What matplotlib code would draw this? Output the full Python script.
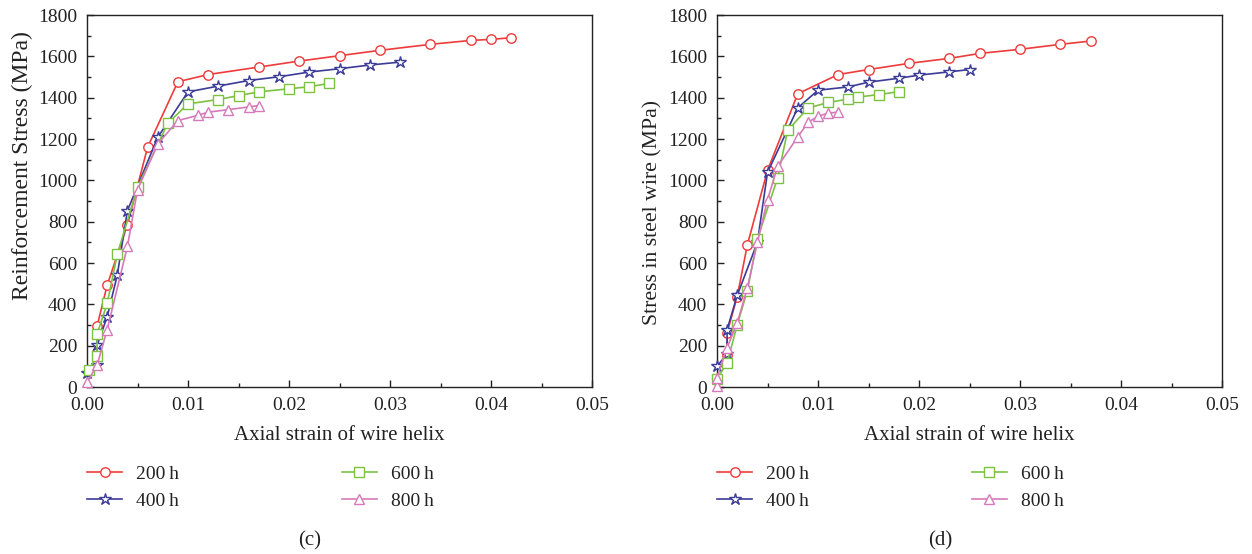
import matplotlib
matplotlib.use("Agg")
import matplotlib.pyplot as plt
from matplotlib.ticker import MultipleLocator, FixedLocator

plt.rcParams['font.family'] = ['Liberation Serif', 'DejaVu Serif']

labels = ['200\u2009h', '400\u2009h', '600\u2009h', '800\u2009h']
colors = ['#ee3b3b', '#3b3b98', '#7cc242', '#d67ab9']
markers = ['o', '*', 's', '^']

# panel (c)
c_200_x = [0.001, 0.001, 0.002, 0.004, 0.006, 0.009, 0.012, 0.017, 0.021, 0.025, 0.029, 0.034, 0.038, 0.040, 0.042]
c_200_y = [170, 295, 493, 785, 1160, 1477, 1512, 1548, 1577, 1603, 1629, 1658, 1677, 1682, 1690]
c_400_x = [0.0, 0.001, 0.001, 0.002, 0.003, 0.004, 0.007, 0.010, 0.013, 0.016, 0.019, 0.022, 0.025, 0.028, 0.031]
c_400_y = [68, 105, 202, 340, 542, 853, 1208, 1428, 1456, 1483, 1501, 1524, 1540, 1558, 1572]
c_600_x = [0.0002, 0.001, 0.001, 0.002, 0.003, 0.005, 0.008, 0.010, 0.013, 0.015, 0.017, 0.020, 0.022, 0.024]
c_600_y = [84, 149, 256, 405, 642, 966, 1276, 1370, 1391, 1410, 1428, 1443, 1453, 1469]
c_800_x = [0.0, 0.001, 0.002, 0.004, 0.005, 0.007, 0.009, 0.011, 0.012, 0.014, 0.016, 0.017]
c_800_y = [22, 105, 278, 680, 954, 1176, 1289, 1315, 1330, 1342, 1355, 1362]

# panel (d)
d_200_x = [0.001, 0.001, 0.002, 0.003, 0.005, 0.008, 0.012, 0.015, 0.019, 0.023, 0.026, 0.030, 0.034, 0.037]
d_200_y = [155, 263, 437, 687, 1048, 1419, 1512, 1536, 1566, 1590, 1614, 1634, 1658, 1674]
d_400_x = [0.0, 0.001, 0.001, 0.002, 0.004, 0.005, 0.008, 0.010, 0.013, 0.015, 0.018, 0.020, 0.023, 0.025]
d_400_y = [100, 160, 278, 443, 700, 1038, 1351, 1436, 1452, 1475, 1494, 1509, 1525, 1536]
d_600_x = [0.0, 0.001, 0.002, 0.003, 0.004, 0.006, 0.007, 0.009, 0.011, 0.013, 0.014, 0.016, 0.018]
d_600_y = [40, 116, 300, 465, 716, 1012, 1242, 1349, 1377, 1393, 1403, 1415, 1429]
d_800_x = [0.0, 0.0, 0.001, 0.002, 0.003, 0.004, 0.005, 0.006, 0.008, 0.009, 0.010, 0.011, 0.012]
d_800_y = [5, 45, 190, 310, 478, 700, 906, 1067, 1210, 1280, 1310, 1325, 1330]

x_ticks = [0.0, 0.01, 0.02, 0.03, 0.04, 0.05]
x_ticklabels = ['0.00', '0.01', '0.02', '0.03', '0.04', '0.05']
y_ticks = [0, 200, 400, 600, 800, 1000, 1200, 1400, 1600, 1800]

panels = [
    dict(series=[(c_200_x, c_200_y), (c_400_x, c_400_y), (c_600_x, c_600_y), (c_800_x, c_800_y)],
         ylabel='Reinforcement Stress (MPa)', tag='(c)', left=87, ylab_size=17, ylab_y=0.594),
    dict(series=[(d_200_x, d_200_y), (d_400_x, d_400_y), (d_600_x, d_600_y), (d_800_x, d_800_y)],
         ylabel='Stress in steel wire (MPa)', tag='(d)', left=717, ylab_size=15.7, ylab_y=0.470),
]

W, H = 1252, 554
fig = plt.figure(figsize=(W / 100, H / 100), dpi=100)
ink = '#222222'

for p in panels:
    ax = fig.add_axes([p['left'] / W, 1 - 387 / H, 505 / W, 372 / H])
    for (xs, ys), lab, col, mk in zip(p['series'], labels, colors, markers):
        ms = 9 if mk == '*' else 6.8
        ax.plot(xs, ys, color=col, lw=1.2, marker=mk, ms=ms, mfc='white',
                mec=col, mew=1.0, label=lab, clip_on=False, zorder=3)
    ax.set_xlim(0, 0.05)
    ax.set_ylim(0, 1800)
    ax.xaxis.set_major_locator(FixedLocator(x_ticks))
    ax.set_xticklabels(x_ticklabels)
    ax.yaxis.set_major_locator(FixedLocator(y_ticks))
    ax.xaxis.set_minor_locator(MultipleLocator(0.005))
    ax.yaxis.set_minor_locator(MultipleLocator(100))
    ax.tick_params(which='both', direction='in', top=False, right=False,
                   labelsize=14, colors=ink)
    ax.tick_params(which='major', length=5, width=1)
    ax.tick_params(which='minor', length=3, width=1)
    ax.tick_params(axis='x', pad=7)
    ax.tick_params(axis='y', pad=7)
    for s in ax.spines.values():
        s.set_linewidth(1.0)
        s.set_color(ink)
    ax.set_xlabel('Axial strain of wire helix', fontsize=15, color=ink, labelpad=9)
    ax.set_ylabel(p['ylabel'], fontsize=p['ylab_size'], color=ink)
    ax.yaxis.set_label_coords(-0.107, p['ylab_y'])
    leg = ax.legend(loc='upper left', bbox_to_anchor=(0.0, -0.21), ncol=2, frameon=False,
                    fontsize=14, handlelength=1.8, handletextpad=0.7, columnspacing=8.4,
                    labelspacing=0.5, borderaxespad=0, borderpad=0)
    for t in leg.get_texts():
        t.set_color(ink)
    fig.text((p['left'] + 223) / W, 1 - 541 / H, p['tag'], ha='center', va='center',
             fontsize=15, color=ink)

fig.savefig('out.png', dpi=100)
